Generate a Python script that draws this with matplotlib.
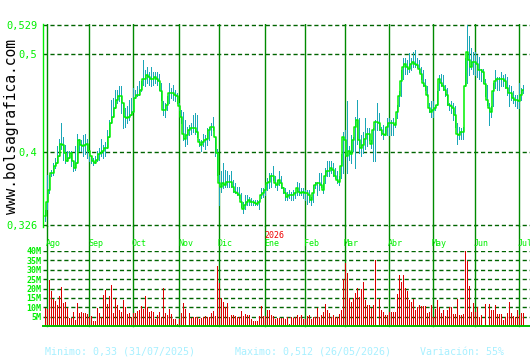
import numpy as np
import matplotlib
matplotlib.use('Agg')
import matplotlib.pyplot as plt

plt.rcParams['font.family'] = 'DejaVu Sans Mono'

# daily closes, Jul 31 2025 -> Jul 2026 (one per trading session)
close = [0.335, 0.350, 0.362, 0.379, 0.379, 0.386, 0.389, 0.396, 0.409, 0.408,
         0.399, 0.391, 0.394, 0.399, 0.391, 0.384, 0.389, 0.413, 0.408, 0.406,
         0.408, 0.409, 0.401, 0.396, 0.391, 0.389, 0.392, 0.398, 0.399, 0.401,
         0.404, 0.404, 0.416, 0.430, 0.436, 0.445, 0.453, 0.457, 0.457, 0.450,
         0.436, 0.435, 0.436, 0.438, 0.441, 0.455, 0.458, 0.458, 0.463,
         0.475, 0.474, 0.479, 0.477, 0.475, 0.475, 0.477, 0.474, 0.472, 0.462,
         0.443, 0.443, 0.448, 0.460, 0.460, 0.460, 0.458, 0.457, 0.447, 0.436,
         0.419, 0.414, 0.418, 0.423, 0.425, 0.425, 0.425, 0.421, 0.411, 0.408,
         0.411, 0.413, 0.414, 0.423, 0.426, 0.426, 0.416, 0.399, 0.369, 0.365,
         0.369, 0.367, 0.370, 0.370, 0.370, 0.365, 0.360, 0.359,
         0.357, 0.350, 0.343, 0.347, 0.350, 0.352, 0.350, 0.350, 0.349, 0.348,
         0.350, 0.357, 0.359, 0.362, 0.369, 0.370, 0.376, 0.376, 0.369, 0.367,
         0.372, 0.369, 0.364, 0.359, 0.355, 0.357, 0.357, 0.357, 0.359, 0.364,
         0.360, 0.359, 0.360, 0.359, 0.359, 0.357, 0.352, 0.359, 0.367, 0.369,
         0.369, 0.367, 0.362, 0.376, 0.381, 0.381, 0.384, 0.382, 0.376,
         0.372, 0.370, 0.386, 0.416, 0.413, 0.396, 0.401, 0.398, 0.413, 0.426,
         0.433, 0.413, 0.404, 0.408, 0.414, 0.419, 0.419, 0.409, 0.423, 0.431,
         0.431, 0.430, 0.423, 0.419, 0.418, 0.426, 0.430, 0.430, 0.430, 0.428,
         0.441, 0.457, 0.472, 0.487, 0.490, 0.487, 0.485, 0.490, 0.492, 0.490,
         0.489, 0.485, 0.480, 0.470, 0.467, 0.458, 0.445, 0.441,
         0.443, 0.445, 0.448, 0.474, 0.470, 0.467, 0.463, 0.458, 0.448, 0.447,
         0.445, 0.438, 0.419, 0.418, 0.421, 0.421, 0.467, 0.502, 0.494, 0.487,
         0.492, 0.492, 0.490, 0.484, 0.484, 0.482, 0.469, 0.453, 0.445, 0.441,
         0.462, 0.472, 0.474, 0.475, 0.474, 0.474, 0.472, 0.465, 0.460, 0.460,
         0.455, 0.453, 0.453, 0.452, 0.458, 0.463]

high = [0.342, 0.377, 0.377, 0.382, 0.389, 0.394, 0.406, 0.414, 0.430, 0.416,
        0.408, 0.401, 0.401, 0.401, 0.389, 0.406, 0.419, 0.414, 0.413, 0.418,
        0.419, 0.414, 0.398, 0.396, 0.394, 0.396, 0.401, 0.404, 0.414, 0.408,
        0.411, 0.423, 0.433, 0.453, 0.455, 0.463, 0.463, 0.467, 0.467, 0.445,
        0.445, 0.447, 0.453, 0.455, 0.465, 0.463, 0.467, 0.472, 0.472,
        0.494, 0.484, 0.487, 0.482, 0.487, 0.482, 0.482, 0.482, 0.480, 0.470,
        0.452, 0.450, 0.457, 0.470, 0.465, 0.468, 0.463, 0.460, 0.450, 0.443,
        0.441, 0.433, 0.426, 0.428, 0.430, 0.438, 0.440, 0.438, 0.414, 0.413,
        0.419, 0.418, 0.425, 0.426, 0.430, 0.436, 0.416, 0.403, 0.377, 0.381,
        0.389, 0.382, 0.381, 0.377, 0.381, 0.372, 0.369, 0.365,
        0.365, 0.359, 0.350, 0.357, 0.357, 0.355, 0.354, 0.352, 0.352, 0.352,
        0.352, 0.364, 0.364, 0.367, 0.374, 0.379, 0.379, 0.386, 0.376, 0.372,
        0.381, 0.376, 0.365, 0.364, 0.360, 0.362, 0.360, 0.362, 0.360, 0.370,
        0.369, 0.364, 0.364, 0.362, 0.362, 0.362, 0.355, 0.367, 0.370, 0.370,
        0.379, 0.379, 0.369, 0.384, 0.391, 0.391, 0.391, 0.389, 0.384,
        0.381, 0.376, 0.398, 0.421, 0.423, 0.452, 0.406, 0.418, 0.416, 0.436,
        0.453, 0.435, 0.418, 0.421, 0.435, 0.425, 0.425, 0.413, 0.425, 0.433,
        0.450, 0.440, 0.426, 0.428, 0.426, 0.435, 0.435, 0.433, 0.435, 0.431,
        0.448, 0.462, 0.484, 0.496, 0.496, 0.494, 0.501, 0.496, 0.502, 0.504,
        0.496, 0.494, 0.487, 0.484, 0.475, 0.467, 0.450, 0.452,
        0.452, 0.448, 0.462, 0.479, 0.480, 0.479, 0.468, 0.465, 0.450, 0.452,
        0.450, 0.447, 0.430, 0.426, 0.425, 0.426, 0.496, 0.529, 0.518, 0.506,
        0.502, 0.502, 0.499, 0.497, 0.485, 0.485, 0.475, 0.468, 0.450, 0.447,
        0.470, 0.484, 0.477, 0.477, 0.482, 0.479, 0.480, 0.477, 0.468, 0.467,
        0.462, 0.458, 0.458, 0.470, 0.465, 0.468]

low = [0.330, 0.343, 0.359, 0.376, 0.377, 0.384, 0.389, 0.399, 0.403, 0.392,
       0.389, 0.392, 0.394, 0.386, 0.381, 0.382, 0.406, 0.401, 0.401, 0.396,
       0.398, 0.394, 0.391, 0.389, 0.387, 0.389, 0.391, 0.392, 0.396, 0.394,
       0.396, 0.413, 0.423, 0.433, 0.436, 0.447, 0.450, 0.452, 0.440, 0.425,
       0.426, 0.430, 0.433, 0.438, 0.452, 0.455, 0.457, 0.458, 0.462,
       0.468, 0.467, 0.470, 0.468, 0.467, 0.468, 0.470, 0.468, 0.463, 0.453,
       0.438, 0.436, 0.443, 0.450, 0.455, 0.453, 0.452, 0.450, 0.443, 0.430,
       0.413, 0.406, 0.409, 0.418, 0.419, 0.421, 0.419, 0.416, 0.406, 0.401,
       0.406, 0.403, 0.408, 0.413, 0.418, 0.423, 0.396, 0.377, 0.347, 0.360,
       0.364, 0.365, 0.365, 0.365, 0.365, 0.360, 0.359, 0.357,
       0.354, 0.345, 0.338, 0.343, 0.347, 0.347, 0.347, 0.347, 0.347, 0.347,
       0.343, 0.354, 0.355, 0.357, 0.362, 0.364, 0.365, 0.372, 0.365, 0.362,
       0.367, 0.364, 0.359, 0.352, 0.352, 0.354, 0.352, 0.352, 0.354, 0.357,
       0.357, 0.357, 0.354, 0.352, 0.348, 0.350, 0.347, 0.350, 0.364, 0.357,
       0.362, 0.365, 0.359, 0.369, 0.376, 0.376, 0.379, 0.376, 0.374,
       0.369, 0.367, 0.374, 0.379, 0.401, 0.379, 0.392, 0.389, 0.401, 0.384,
       0.409, 0.399, 0.396, 0.399, 0.403, 0.406, 0.413, 0.404, 0.391, 0.391,
       0.423, 0.423, 0.418, 0.414, 0.418, 0.418, 0.418, 0.418, 0.418, 0.426,
       0.435, 0.447, 0.457, 0.474, 0.480, 0.480, 0.482, 0.484, 0.487, 0.487,
       0.487, 0.482, 0.475, 0.467, 0.463, 0.457, 0.441, 0.436,
       0.436, 0.443, 0.448, 0.463, 0.467, 0.463, 0.457, 0.448, 0.443, 0.440,
       0.433, 0.426, 0.409, 0.414, 0.414, 0.414, 0.467, 0.470, 0.479, 0.485,
       0.480, 0.479, 0.477, 0.474, 0.472, 0.470, 0.457, 0.448, 0.428, 0.436,
       0.447, 0.465, 0.463, 0.463, 0.467, 0.467, 0.465, 0.458, 0.447, 0.453,
       0.450, 0.447, 0.445, 0.445, 0.453, 0.460]

# volume in millions of shares
volume = [9.8, 9.0, 24.5, 18.7, 14.4, 13.3, 11.2, 16.0, 20.6, 12.4,
          13.0, 9.6, 4.4, 4.4, 7.5, 3.2, 12.3, 6.8, 7.6, 7.1,
          6.8, 6.4, 5.0, 5.3, 2.8, 2.8, 9.6, 6.8, 4.6, 16.5,
          19.2, 11.7, 16.0, 21.9, 7.1, 14.9, 11.2, 8.5, 7.6, 13.9,
          10.0, 6.4, 7.1, 4.6, 6.8, 7.1, 8.2, 8.5, 10.7, 9.1,
          16.0, 10.0, 7.6, 8.2, 7.3, 3.9, 5.9, 7.3, 4.6, 20.1,
          7.1, 5.9, 9.1, 6.4, 3.6, 3.6, 1.0, 3.6,
          6.8, 12.1, 9.1, 0.5, 6.8, 4.4, 4.6, 5.0, 5.0, 3.6,
          4.1, 4.6, 5.3, 4.6, 5.0, 6.8, 8.0, 5.3, 32.2, 22.8,
          14.8, 13.0, 10.3, 12.1, 4.6, 5.9, 5.9, 5.3, 4.6, 4.6,
          8.0, 5.3, 6.2, 5.9, 5.9, 3.6, 2.8, 2.8, 2.8, 5.3,
          10.7, 5.3, 5.3, 8.5, 8.5, 5.9, 5.3, 3.6, 4.1, 4.1,
          4.1, 4.1, 3.6, 4.6, 1.1, 4.6, 4.1, 5.0, 5.9, 4.6,
          5.9, 3.6, 3.6, 5.3, 5.9, 3.6, 4.6, 4.6, 9.8, 4.6,
          5.9, 7.6, 11.7, 8.5, 7.1, 4.6, 5.9, 4.6, 4.6, 6.4,
          8.5, 24.9, 33.4, 28.4, 14.8, 13.0, 14.8, 17.8, 20.1, 15.6,
          19.7, 23.6, 13.9, 11.2, 11.2, 9.8, 11.2, 35.2, 0.5, 14.4,
          8.5, 7.6, 5.9, 5.9, 7.6, 7.6, 7.6, 7.6, 17.1, 27.2,
          23.6, 27.2, 20.1, 18.7, 13.9, 13.0, 14.2, 8.5, 10.0, 11.2,
          10.7, 10.7, 10.7, 6.8, 7.6, 11.2, 4.6, 9.1, 13.9, 10.3,
          7.1, 8.5, 5.3, 8.5, 10.3, 10.0, 6.4, 6.4, 14.4, 5.9,
          5.9, 6.4, 40.0, 34.8, 21.3, 7.6, 12.4, 7.6, 10.0, 4.6,
          5.9, 0.5, 11.7, 0.0, 11.7, 8.5, 8.5, 11.2, 6.4, 6.4,
          6.4, 3.2, 4.6, 7.1, 13.0, 6.8, 5.3, 4.6, 8.5, 5.9,
          7.1, 7.1]

# first session of each month (index into the series above)
month_names = ['Ago', 'Sep', 'Oct', 'Nov', 'Dic', 'Ene', 'Feb', 'Mar', 'Abr', 'May', 'Jun', 'Jul']
month_pos = [1, 22, 44, 67, 87, 110, 130, 150, 172, 194, 215, 237]

price_ticks = [0.326, 0.4, 0.5, 0.529]
price_labels = ['0,326', '0,4', '0,5', '0,529']
vol_ticks = [5, 10, 15, 20, 25, 30, 35, 40]

W, H = 530, 360
LIME = '#00f000'
DASH = '#006400'
VLINE = '#008a00'
TEAL = '#1aa6b7'
RED = '#dd0000'
PX = 0.72  # one pixel, in points


def box(x0, y0, x1, y1):
    # pixel box (top-left origin) -> figure rect
    return [x0 / W, 1 - y1 / H, (x1 - x0) / W, (y1 - y0) / H]


fig = plt.figure(figsize=(W / 100, H / 100), dpi=100)
ax = fig.add_axes(box(43, 24, 530, 227))
axv = fig.add_axes(box(43, 251, 530, 326))

idx = np.arange(len(close))
c = np.array(close)
hi = np.maximum(np.array(high), c)
lo = np.minimum(np.array(low), c)

# price panel
for t in price_ticks:
    ax.axhline(t, color=DASH, lw=1.0, dashes=(3, 2), zorder=1)
for p in month_pos:
    ax.axvline(p, color=VLINE, lw=1.0, zorder=1)
ax.vlines(idx, lo, hi, color=TEAL, lw=PX, antialiased=False, zorder=2)
ax.plot(idx, c, drawstyle='steps-mid', color=LIME, lw=1.1, zorder=3)

ax.set_xlim(-1, 242.5)
ax.set_ylim(0.326 - 1.7 / 985.2, 0.529 + 1.3 / 985.2)
ax.set_xticks([])
ax.set_yticks(price_ticks, price_labels)
ax.tick_params(axis='y', length=0, pad=4, labelcolor=LIME, labelsize=7.5)
for s in ['top', 'right', 'bottom']:
    ax.spines[s].set_visible(False)
ax.spines['left'].set_color(LIME)
ax.spines['left'].set_linewidth(1.0)
ax.patch.set_alpha(0)

# volume panel
for v in vol_ticks:
    axv.axhline(v, color=DASH, lw=1.0, dashes=(3, 2), zorder=1)
for p in month_pos:
    axv.axvline(p, ymin=0, ymax=100 / 75, color=VLINE, lw=1.0, clip_on=False, zorder=1)
axv.vlines(idx, 0, volume, color=RED, lw=PX, antialiased=False, zorder=2)
axv.set_xlim(-1, 242.5)
axv.set_ylim(0, 40)
axv.set_xticks([])
axv.set_yticks(vol_ticks, [f'{v}M' for v in vol_ticks])
axv.tick_params(axis='y', length=0, pad=1, labelcolor=LIME, labelsize=6)
for lbl in axv.get_yticklabels():
    lbl.set_fontweight('bold')
for s in ['top', 'right', 'left']:
    axv.spines[s].set_visible(False)
axv.spines['bottom'].set_color('#00c000')
axv.spines['bottom'].set_linewidth(1.4)
axv.patch.set_alpha(0)

# month labels between the panels (the last one runs off the edge, as in the original)
trans = axv.get_xaxis_transform()
for name, p in zip(month_names, month_pos):
    axv.text(p - 0.5, (326 - 244) / 75, name, transform=trans, ha='left', va='center',
             fontsize=6, color=LIME, clip_on=False)
axv.text(month_pos[5] - 0.5, (326 - 236) / 75, '2026', transform=trans, ha='left',
         va='center', fontsize=6, color='#ee0000', clip_on=False)

# side and footer text
fig.text(12 / W, 1 - 126 / H, 'www.bolsagrafica.com', rotation=90, ha='center', va='center',
         fontsize=10.5, color='black')
foot = '#a8f0ff'
fig.text(45 / W, 1 - 352 / H, 'Minimo: 0,33 (31/07/2025)', fontsize=7.2, color=foot, va='center')
fig.text(235 / W, 1 - 352 / H, 'Maximo: 0,512 (26/05/2026)', fontsize=7.2, color=foot, va='center')
fig.text(420 / W, 1 - 352 / H, 'Variación: 55%', fontsize=7.2, color=foot, va='center')

fig.savefig('out.png', dpi=100)
